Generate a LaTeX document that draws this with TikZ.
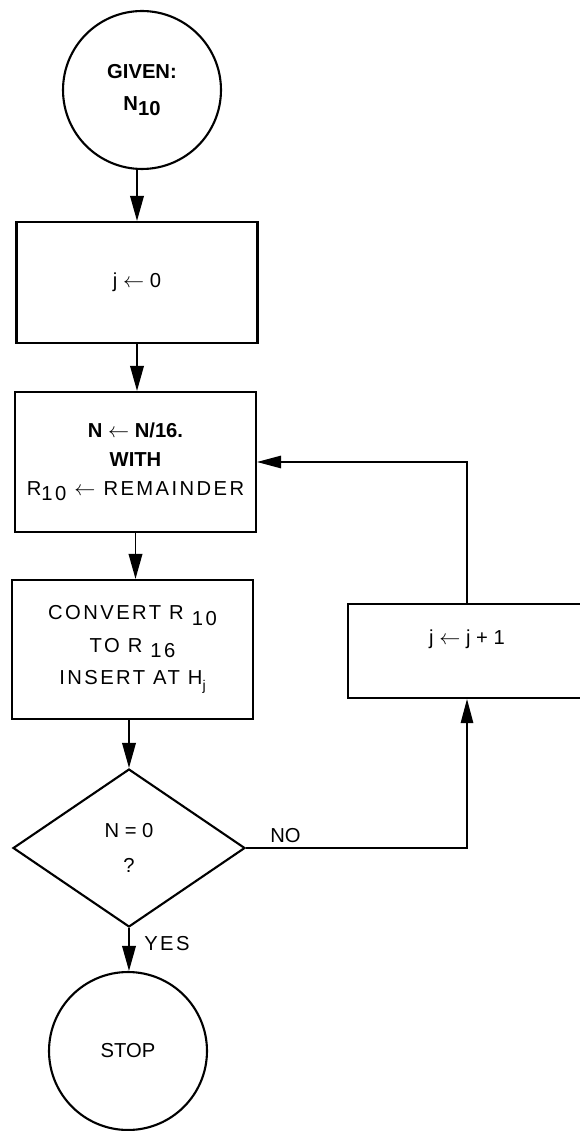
\documentclass[tikz,border=0pt]{standalone}
\usepackage{fontspec}
\setmainfont{Liberation Sans}
\newfontfamily\spfont[LetterSpace=12]{Liberation Sans}
\usetikzlibrary{arrows.meta,shapes.geometric}
\newcommand{\lowr}[1]{\raisebox{-0.5ex}{#1}}
\begin{document}
\begin{tikzpicture}[x=0.02cm,y=-0.02cm,
  lbl/.style={font=\fontsize{11.5}{16.5}\selectfont,align=center,inner sep=0pt},
  box/.style={lbl,draw,line width=1.2pt,minimum width=4.82cm},
  term/.style={lbl,draw,circle,line width=1.2pt,minimum size=3.16cm},
  dec/.style={lbl,draw,diamond,line width=1.2pt,minimum width=4.64cm,minimum height=3.16cm},
  flow/.style={line width=1.1pt,-{Triangle[length=0.5cm,width=0.27cm]}},
  back/.style={line width=0.7pt,-{Triangle[length=0.48cm,width=0.25cm]}}
]
\useasboundingbox (0,0) rectangle (580,1131);

\node[term] (start) at (142,90) {\textbf{GIVEN:}\\[2pt]\textbf{N\lowr{10}}};
\node[box,minimum height=2.42cm] (b1) at (137,282.5) {j $\leftarrow$ 0};
\node[box,minimum height=2.8cm] (b2) at (135.5,462) {\textbf{N $\leftarrow$ N/16.}\\\textbf{WITH}\\{\spfont R\lowr{10} $\leftarrow$ REMAINDER}};
\node[box,minimum height=2.78cm] (b3) at (132.5,649.5) {{\spfont CONVERT R \lowr{10}}\\[2pt]{\spfont TO R \lowr{16}}\\[2pt]{\spfont INSERT AT H\lowr{\footnotesize j}}};
\node[dec] (dec) at (129,848) {N = 0\\[3pt]?};
\node[term] (stop) at (128,1051) {STOP};
\node[draw,line width=1.2pt,minimum width=4.76cm,minimum height=1.88cm,inner sep=0pt] (jb) at (467,651) {};
\node[lbl] (jt) at (467,639) {j $\leftarrow$ j + 1};

\node[lbl,anchor=west] (no) at (270,836) {NO};
\node[lbl,anchor=west] (yes) at (144,944) {\spfont YES};

\draw[flow] (b1.north |- start.south) -- (b1.north);
\draw[flow] (b1.south) -- (b1.south |- b2.north);
\draw[flow] (b2.south) -- (b2.south |- b3.north);
\draw[flow] (dec.north |- b3.south) -- (dec.north);
\draw[flow] (dec.south) -- (dec.south |- stop.north);
\draw[back] (dec.east) -| (jb.south);
\draw[back] (jb.north) |- (b2.east);
\end{tikzpicture}
\end{document}
